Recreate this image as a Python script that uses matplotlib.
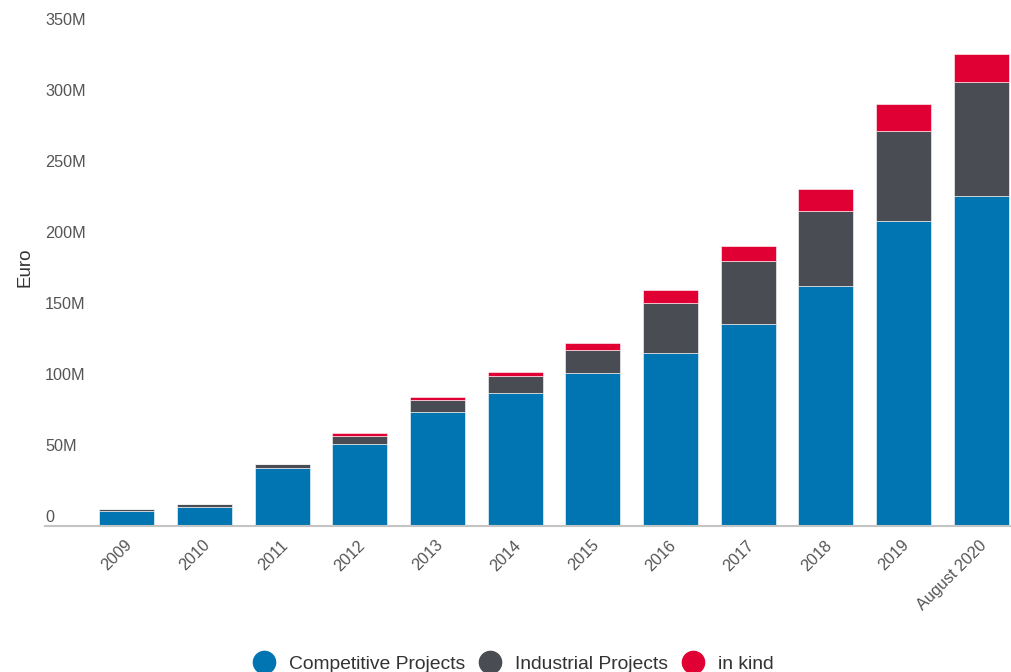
import matplotlib.pyplot as plt
import matplotlib.transforms as mtransforms
from matplotlib.lines import Line2D
import numpy as np

plt.rcParams['font.family'] = ['Liberation Sans', 'DejaVu Sans']

years = ['2009', '2010', '2011', '2012', '2013', '2014', '2015', '2016',
         '2017', '2018', '2019', 'August 2020']
competitive = [10.8, 13.6, 41.3, 58.0, 80.3, 93.9, 107.8, 122.1, 142.7, 169.3, 215.1, 232.9]
industrial = [1.2, 1.9, 2.8, 5.8, 8.7, 11.8, 16.4, 35.4, 44.2, 52.8, 63.6, 80.1]
in_kind = [0.0, 0.0, 0.0, 1.9, 2.1, 2.8, 4.7, 8.8, 10.8, 15.5, 18.6, 19.5]

series_names = ['Competitive Projects', 'Industrial Projects', 'in kind']
colors = ['#0075b1', '#494c53', '#e00034']

y_ticks = [0, 50, 100, 150, 200, 250, 300, 350]
y_labels = ['0', '50M', '100M', '150M', '200M', '250M', '300M', '350M']

W, H = 1012, 672
fig = plt.figure(figsize=(W / 100, H / 100), dpi=100)
ax = fig.add_axes([45 / W, (H - 526.3) / H, 1 - 45 / W, (526.3 - 29.5) / H])

x = np.arange(len(years))
comp = np.array(competitive)
ind = np.array(industrial)
kind = np.array(in_kind)

bw = 0.708
ax.bar(x, comp, bw, color=colors[0], edgecolor='white', linewidth=0.4, zorder=2)
ax.bar(x, ind, bw, bottom=comp, color=colors[1], edgecolor='white', linewidth=0.4, zorder=2)
ax.bar(x, kind, bw, bottom=comp + ind, color=colors[2], edgecolor='white', linewidth=0.4, zorder=2)

ax.set_xlim(-1.051, 11.394)
ax.set_ylim(0, 350)

for s in ['top', 'right', 'left']:
    ax.spines[s].set_visible(False)
ax.spines['bottom'].set_color('#c4c4c4')
ax.spines['bottom'].set_linewidth(1.5)

# y labels sit just above their value, left aligned
ax.set_yticks([])
off = mtransforms.ScaledTranslation(0, 4.5 / 100, fig.dpi_scale_trans)
trans = mtransforms.blended_transform_factory(ax.transAxes, ax.transData) + off
for v, lab in zip(y_ticks, y_labels):
    ax.text(0, v, lab, transform=trans, ha='left', va='baseline',
            fontsize=11.7, color='#555555')

ax.set_xticks(x)
ax.set_xticklabels(years, rotation=45, ha='right', rotation_mode='anchor',
                   fontsize=11.7, color='#555555')
ax.tick_params(axis='x', length=0, pad=8)
for lab in ax.get_xticklabels():
    lab.set_transform(lab.get_transform() +
                      mtransforms.ScaledTranslation(-2 / 100, 0, fig.dpi_scale_trans))

fig.text(25 / W, 1 - 267 / H, 'Euro', rotation=90, ha='center', va='center',
         fontsize=13.5, color='#333333')

handles = [Line2D([], [], marker='o', linestyle='', markersize=16,
                  markerfacecolor=c, markeredgecolor=c) for c in colors]
fig.legend(handles, series_names, loc='center', bbox_to_anchor=(514 / W, 1 - 664 / H),
           ncol=3, frameon=False, fontsize=13.9, handlelength=1.0,
           handletextpad=0.8, columnspacing=0.8, labelcolor='#333333')

fig.savefig('out.png', dpi=100)
